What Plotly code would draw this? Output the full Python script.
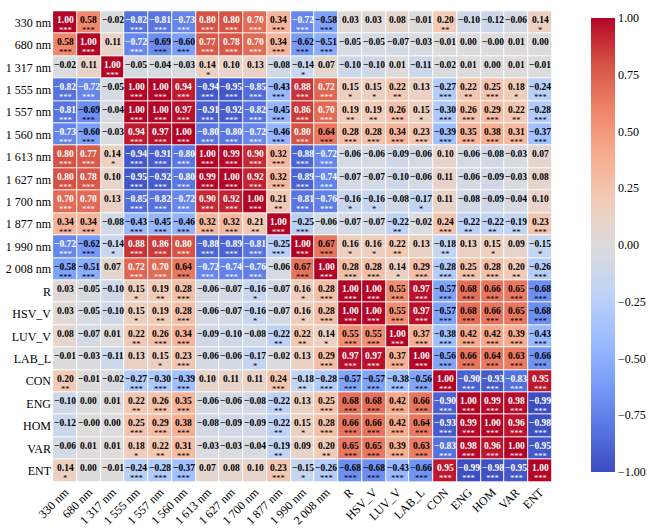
import plotly.graph_objects as go

labels = ["330 nm", "680 nm", "1 317 nm", "1 555 nm", "1 557 nm", "1 560 nm",
          "1 613 nm", "1 627 nm", "1 700 nm", "1 877 nm", "1 990 nm", "2 008 nm",
          "R", "HSV_V", "LUV_V", "LAB_L", "CON", "ENG", "HOM", "VAR", "ENT"]

corr = [
    [1.00, 0.58, -0.02, -0.82, -0.81, -0.73, 0.80, 0.80, 0.70, 0.34, -0.72, -0.58, 0.03, 0.03, 0.08, -0.01, 0.20, -0.10, -0.12, -0.06, 0.14],
    [0.58, 1.00, 0.11, -0.72, -0.69, -0.60, 0.77, 0.78, 0.70, 0.34, -0.62, -0.51, -0.05, -0.05, -0.07, -0.03, -0.01, 0.00, -0.0, 0.01, 0.00],
    [-0.02, 0.11, 1.00, -0.05, -0.04, -0.03, 0.14, 0.10, 0.13, -0.08, -0.14, 0.07, -0.10, -0.10, 0.01, -0.11, -0.02, 0.01, 0.00, 0.01, -0.01],
    [-0.82, -0.72, -0.05, 1.00, 1.00, 0.94, -0.94, -0.95, -0.85, -0.43, 0.88, 0.72, 0.15, 0.15, 0.22, 0.13, -0.27, 0.22, 0.25, 0.18, -0.24],
    [-0.81, -0.69, -0.04, 1.00, 1.00, 0.97, -0.91, -0.92, -0.82, -0.45, 0.86, 0.70, 0.19, 0.19, 0.26, 0.15, -0.30, 0.26, 0.29, 0.22, -0.28],
    [-0.73, -0.60, -0.03, 0.94, 0.97, 1.00, -0.80, -0.80, -0.72, -0.46, 0.80, 0.64, 0.28, 0.28, 0.34, 0.23, -0.39, 0.35, 0.38, 0.31, -0.37],
    [0.80, 0.77, 0.14, -0.94, -0.91, -0.80, 1.00, 0.99, 0.90, 0.32, -0.88, -0.72, -0.06, -0.06, -0.09, -0.06, 0.10, -0.06, -0.08, -0.03, 0.07],
    [0.80, 0.78, 0.10, -0.95, -0.92, -0.80, 0.99, 1.00, 0.92, 0.32, -0.89, -0.74, -0.07, -0.07, -0.10, -0.06, 0.11, -0.06, -0.09, -0.03, 0.08],
    [0.70, 0.70, 0.13, -0.85, -0.82, -0.72, 0.90, 0.92, 1.00, 0.21, -0.81, -0.76, -0.16, -0.16, -0.08, -0.17, 0.11, -0.08, -0.09, -0.04, 0.10],
    [0.34, 0.34, -0.08, -0.43, -0.45, -0.46, 0.32, 0.32, 0.21, 1.00, -0.25, -0.06, -0.07, -0.07, -0.22, -0.02, 0.24, -0.22, -0.22, -0.19, 0.23],
    [-0.72, -0.62, -0.14, 0.88, 0.86, 0.80, -0.88, -0.89, -0.81, -0.25, 1.00, 0.67, 0.16, 0.16, 0.22, 0.13, -0.18, 0.13, 0.15, 0.09, -0.15],
    [-0.58, -0.51, 0.07, 0.72, 0.70, 0.64, -0.72, -0.74, -0.76, -0.06, 0.67, 1.00, 0.28, 0.28, 0.14, 0.29, -0.28, 0.25, 0.28, 0.20, -0.26],
    [0.03, -0.05, -0.10, 0.15, 0.19, 0.28, -0.06, -0.07, -0.16, -0.07, 0.16, 0.28, 1.00, 1.00, 0.55, 0.97, -0.57, 0.68, 0.66, 0.65, -0.68],
    [0.03, -0.05, -0.10, 0.15, 0.19, 0.28, -0.06, -0.07, -0.16, -0.07, 0.16, 0.28, 1.00, 1.00, 0.55, 0.97, -0.57, 0.68, 0.66, 0.65, -0.68],
    [0.08, -0.07, 0.01, 0.22, 0.26, 0.34, -0.09, -0.10, -0.08, -0.22, 0.22, 0.14, 0.55, 0.55, 1.00, 0.37, -0.38, 0.42, 0.42, 0.39, -0.43],
    [-0.01, -0.03, -0.11, 0.13, 0.15, 0.23, -0.06, -0.06, -0.17, -0.02, 0.13, 0.29, 0.97, 0.97, 0.37, 1.00, -0.56, 0.66, 0.64, 0.63, -0.66],
    [0.20, -0.01, -0.02, -0.27, -0.30, -0.39, 0.10, 0.11, 0.11, 0.24, -0.18, -0.28, -0.57, -0.57, -0.38, -0.56, 1.00, -0.90, -0.93, -0.83, 0.95],
    [-0.10, 0.00, 0.01, 0.22, 0.26, 0.35, -0.06, -0.06, -0.08, -0.22, 0.13, 0.25, 0.68, 0.68, 0.42, 0.66, -0.90, 1.00, 0.99, 0.98, -0.99],
    [-0.12, -0.0, 0.00, 0.25, 0.29, 0.38, -0.08, -0.09, -0.09, -0.22, 0.15, 0.28, 0.66, 0.66, 0.42, 0.64, -0.93, 0.99, 1.00, 0.96, -0.98],
    [-0.06, 0.01, 0.01, 0.18, 0.22, 0.31, -0.03, -0.03, -0.04, -0.19, 0.09, 0.20, 0.65, 0.65, 0.39, 0.63, -0.83, 0.98, 0.96, 1.00, -0.95],
    [0.14, 0.00, -0.01, -0.24, -0.28, -0.37, 0.07, 0.08, 0.10, 0.23, -0.15, -0.26, -0.68, -0.68, -0.43, -0.66, 0.95, -0.99, -0.98, -0.95, 1.00],
]

# number of significance stars per cell
stars = [
    [3, 3, 0, 3, 3, 3, 3, 3, 3, 3, 3, 3, 0, 0, 0, 0, 2, 0, 0, 0, 1],
    [3, 3, 0, 3, 3, 3, 3, 3, 3, 3, 3, 3, 0, 0, 0, 0, 0, 0, 0, 0, 0],
    [0, 0, 3, 0, 0, 0, 1, 0, 0, 0, 1, 0, 0, 0, 0, 0, 0, 0, 0, 0, 0],
    [3, 3, 0, 3, 3, 3, 3, 3, 3, 3, 3, 3, 1, 1, 2, 0, 3, 2, 3, 1, 3],
    [3, 3, 0, 3, 3, 3, 3, 3, 3, 3, 3, 3, 2, 2, 3, 1, 3, 3, 3, 2, 3],
    [3, 3, 0, 3, 3, 3, 3, 3, 3, 3, 3, 3, 3, 3, 3, 3, 3, 3, 3, 3, 3],
    [3, 3, 1, 3, 3, 3, 3, 3, 3, 3, 3, 3, 0, 0, 0, 0, 0, 0, 0, 0, 0],
    [3, 3, 0, 3, 3, 3, 3, 3, 3, 3, 3, 3, 0, 0, 0, 0, 0, 0, 0, 0, 0],
    [3, 3, 0, 3, 3, 3, 3, 3, 3, 2, 3, 3, 1, 1, 0, 1, 0, 0, 0, 0, 0],
    [3, 3, 0, 3, 3, 3, 3, 3, 2, 3, 3, 0, 0, 0, 2, 0, 3, 2, 2, 2, 3],
    [3, 3, 1, 3, 3, 3, 3, 3, 3, 3, 3, 3, 1, 1, 2, 0, 2, 0, 1, 0, 1],
    [3, 3, 0, 3, 3, 3, 3, 3, 3, 0, 3, 3, 3, 3, 1, 3, 3, 3, 3, 2, 3],
    [0, 0, 0, 1, 2, 3, 0, 0, 1, 0, 1, 3, 3, 3, 3, 3, 3, 3, 3, 3, 3],
    [0, 0, 0, 1, 2, 3, 0, 0, 1, 0, 1, 3, 3, 3, 3, 3, 3, 3, 3, 3, 3],
    [0, 0, 0, 2, 3, 3, 0, 0, 0, 2, 2, 1, 3, 3, 3, 3, 3, 3, 3, 3, 3],
    [0, 0, 0, 0, 1, 3, 0, 0, 1, 0, 0, 3, 3, 3, 3, 3, 3, 3, 3, 3, 3],
    [2, 0, 0, 3, 3, 3, 0, 0, 0, 3, 2, 3, 3, 3, 3, 3, 3, 3, 3, 3, 3],
    [0, 0, 0, 2, 3, 3, 0, 0, 0, 2, 0, 3, 3, 3, 3, 3, 3, 3, 3, 3, 3],
    [0, 0, 0, 3, 3, 3, 0, 0, 0, 2, 1, 3, 3, 3, 3, 3, 3, 3, 3, 3, 3],
    [0, 0, 0, 1, 2, 3, 0, 0, 0, 2, 0, 2, 3, 3, 3, 3, 3, 3, 3, 3, 3],
    [1, 0, 0, 3, 3, 3, 0, 0, 0, 3, 1, 3, 3, 3, 3, 3, 3, 3, 3, 3, 3],
]

cbar_ticks = [-1.0, -0.75, -0.5, -0.25, 0.0, 0.25, 0.5, 0.75, 1.0]

coolwarm = ["#3b4cc0", "#5977e3", "#7b9ff9", "#9ebeff", "#c0d4f5", "#dddcdc",
            "#f2cbb7", "#f7ac8e", "#ee8468", "#d65244", "#b40426"]
colorscale = [[i / (len(coolwarm) - 1), c] for i, c in enumerate(coolwarm)]

FONT = "Liberation Serif"


def fmt(v):
    return f"{v:.2f}".replace("-", "\u2212")


fig = go.Figure()
fig.add_trace(go.Heatmap(
    z=corr, x=labels, y=labels, zmin=-1, zmax=1,
    colorscale=colorscale, xgap=1, ygap=1, hoverinfo="skip",
    colorbar=dict(
        x=1.056, xanchor="left", xref="paper", y=0.5, yanchor="middle",
        len=1.0, lenmode="fraction", thickness=24, outlinewidth=0,
        tickvals=cbar_ticks, ticktext=[fmt(t) for t in cbar_ticks],
        ticks="", tickfont=dict(family=FONT, size=12, color="black"),
    ),
))

annotations = []
for i, rl in enumerate(labels):
    for j, cl in enumerate(labels):
        v = corr[i][j]
        col = "white" if abs(v) >= 0.70 else "black"
        annotations.append(dict(
            x=cl, y=rl, xref="x", yref="y", text="<b>" + fmt(v) + "</b>",
            showarrow=False, yshift=2.5,
            font=dict(family=FONT, size=9.5, color=col)))
        if stars[i][j]:
            annotations.append(dict(
                x=cl, y=rl, xref="x", yref="y", text="*" * stars[i][j],
                showarrow=False, yshift=-7.5,
                font=dict(family=FONT, size=8.5, color=col)))

fig.update_layout(
    width=650, height=530,
    margin=dict(l=52, r=97, t=8, b=48, autoexpand=False),
    paper_bgcolor="white", plot_bgcolor="white",
    font=dict(family=FONT, size=12, color="black"),
    annotations=annotations,
    xaxis=dict(type="category", tickangle=-45, showgrid=False, zeroline=False,
               ticks="", automargin=False, tickfont=dict(family=FONT, size=12)),
    yaxis=dict(type="category", autorange="reversed", showgrid=False, zeroline=False,
               ticks="", automargin=False, tickfont=dict(family=FONT, size=12)),
)

fig.write_html("out.html", config={"displayModeBar": False},
               post_script="document.body.style.margin='0';")
